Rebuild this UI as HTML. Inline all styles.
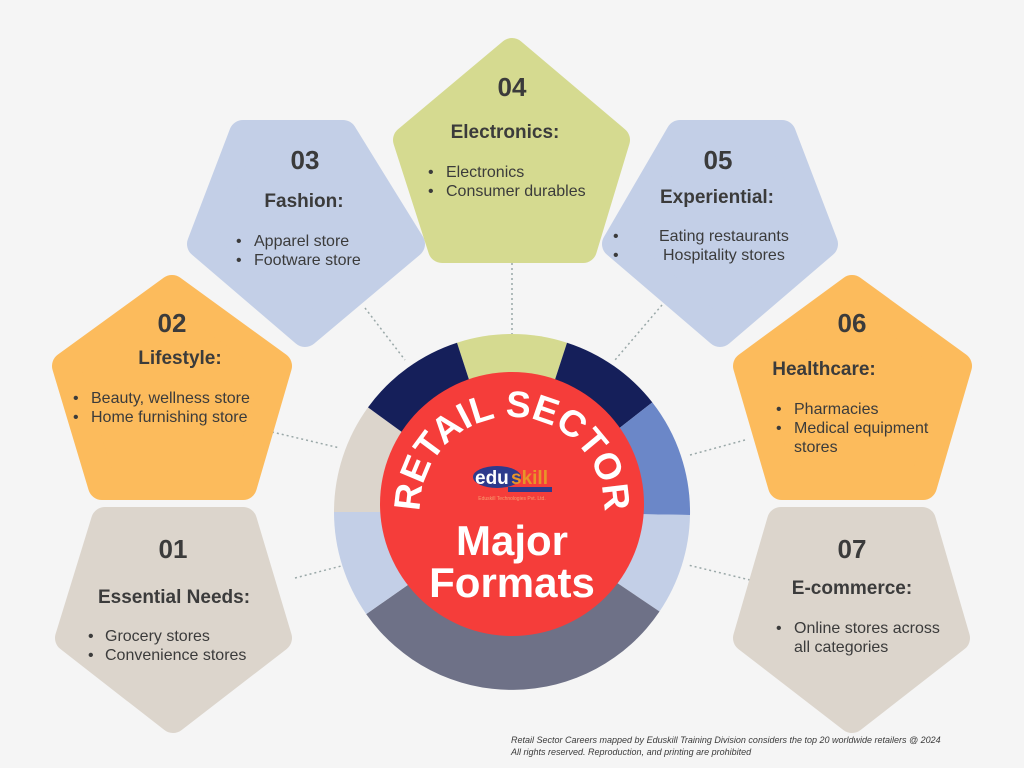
<!DOCTYPE html>
<html><head><meta charset="utf-8"><style>
html,body{margin:0;padding:0;background:#f5f5f5;}
svg{display:block}
text{font-family:"Liberation Sans",sans-serif;fill:#3b3b3b}
.n{font-size:26px;font-weight:bold;text-anchor:middle}
.h{font-size:19px;font-weight:bold;text-anchor:middle}
.b{font-size:16px}
</style></head><body>
<svg width="1024" height="768" viewBox="0 0 1024 768" xmlns="http://www.w3.org/2000/svg">
<rect width="1024" height="768" fill="#f5f5f5"/>
<g stroke="#9aa8a8" stroke-width="1.5" stroke-dasharray="2 3" fill="none">
<line x1="295" y1="578" x2="345" y2="565"/>
<line x1="272" y1="432" x2="340" y2="448"/>
<line x1="365" y1="308" x2="405" y2="360"/>
<line x1="512" y1="263" x2="512" y2="335"/>
<line x1="662" y1="305" x2="615" y2="360"/>
<line x1="745" y1="440" x2="690" y2="455"/>
<line x1="750" y1="580" x2="688" y2="565"/>
</g>
<g stroke-linejoin="round" stroke-width="28">
<polygon fill="#dcd5cc" stroke="#dcd5cc" points="105,521 243,521 278,638 173,719 69,638"/>
<polygon fill="#dcd5cc" stroke="#dcd5cc" points="781,521 922,521 956,638 852,719 747,638"/>
<polygon fill="#fcbb5c" stroke="#fcbb5c" points="172,289 278,366 243,486 102,486 66,366"/>
<polygon fill="#fcbb5c" stroke="#fcbb5c" points="852,289 958,366 923,486 782,486 747,366"/>
<polygon fill="#c3cfe7" stroke="#c3cfe7" points="243,134 343,134 411,244 305,333 201,244"/>
<polygon fill="#c3cfe7" stroke="#c3cfe7" points="680,134 782,134 824,244 720,333 616,244"/>
<polygon fill="#d5da90" stroke="#d5da90" points="512,52 616,140 583,249 442,249 407,140"/>
</g>
<g transform="translate(512,512)">
<path d="M0,0 L-55.0,-169.3 A178,178 0 0 1 55.0,-169.3 Z" fill="#d5da90"/>
<path d="M0,0 L55.0,-169.3 A178,178 0 0 1 140.3,-109.6 Z" fill="#151f5a"/>
<path d="M0,0 L140.3,-109.6 A178,178 0 0 1 178,3 Z" fill="#6b87c8"/>
<path d="M0,0 L178,3 A178,178 0 0 1 147.5,99.5 Z" fill="#c3cfe7"/>
<path d="M0,0 L147.5,99.5 A178,178 0 0 1 -145.8,102.1 Z" fill="#6e7187"/>
<path d="M0,0 L-145.8,102.1 A178,178 0 0 1 -178,0 Z" fill="#c3cfe7"/>
<path d="M0,0 L-178,0 A178,178 0 0 1 -144,-104.6 Z" fill="#dcd5cc"/>
<path d="M0,0 L-144,-104.6 A178,178 0 0 1 -55.0,-169.3 Z" fill="#151f5a"/>
</g>
<circle cx="512" cy="504" r="132" fill="#f53d3a"/>
<defs><path id="arc" d="M 422,528 A 92,92 0 1 1 602,528"/></defs>
<text font-size="37" font-weight="bold" style="fill:#fff" text-anchor="middle"><textPath href="#arc" startOffset="50%">RETAIL SECTOR</textPath></text>
<ellipse cx="497" cy="477" rx="24" ry="11" fill="#2d3a8c"/>
<text x="475" y="484" font-size="19" font-weight="bold" style="fill:#fff">edu</text>
<text x="511" y="484" font-size="19" font-weight="bold" style="fill:#e8942a">skill</text>
<rect x="508" y="487" width="44" height="5" fill="#2d3a8c"/>
<text x="512" y="500" font-size="5" text-anchor="middle" style="fill:#f7a070">Eduskill Technologies Pvt. Ltd.</text>
<text x="512" y="555" font-size="42" font-weight="bold" text-anchor="middle" style="fill:#fff">Major</text>
<text x="512" y="597" font-size="42" font-weight="bold" text-anchor="middle" style="fill:#fff">Formats</text>

<text class="n" x="173" y="558">01</text>
<text class="h" x="174" y="603">Essential Needs:</text>
<text class="b" x="105" y="641">Grocery stores</text><text class="b" x="105" y="660">Convenience stores</text>
<text class="b" x="88" y="641">•</text><text class="b" x="88" y="660">•</text>

<text class="n" x="172" y="332">02</text>
<text class="h" x="180" y="364">Lifestyle:</text>
<text class="b" x="91" y="403">Beauty, wellness store</text><text class="b" x="91" y="422">Home furnishing store</text>
<text class="b" x="73" y="403">•</text><text class="b" x="73" y="422">•</text>

<text class="n" x="305" y="169">03</text>
<text class="h" x="304" y="207">Fashion:</text>
<text class="b" x="254" y="246">Apparel store</text><text class="b" x="254" y="265">Footware store</text>
<text class="b" x="236" y="246">•</text><text class="b" x="236" y="265">•</text>

<text class="n" x="512" y="96">04</text>
<text class="h" x="505" y="138">Electronics:</text>
<text class="b" x="446" y="177">Electronics</text><text class="b" x="446" y="196">Consumer durables</text>
<text class="b" x="428" y="177">•</text><text class="b" x="428" y="196">•</text>

<text class="n" x="718" y="169">05</text>
<text class="h" x="717" y="203">Experiential:</text>
<text class="b" x="659" y="241">Eating restaurants</text><text class="b" x="663" y="260">Hospitality stores</text>
<text class="b" x="613" y="241">•</text><text class="b" x="613" y="260">•</text>

<text class="n" x="852" y="332">06</text>
<text class="h" x="824" y="375">Healthcare:</text>
<text class="b" x="794" y="414">Pharmacies</text><text class="b" x="794" y="433">Medical equipment</text><text class="b" x="794" y="452">stores</text>
<text class="b" x="776" y="414">•</text><text class="b" x="776" y="433">•</text>

<text class="n" x="852" y="558">07</text>
<text class="h" x="852" y="594">E-commerce:</text>
<text class="b" x="794" y="633">Online stores across</text><text class="b" x="794" y="652">all categories</text>
<text class="b" x="776" y="633">•</text>

<text x="511" y="743" font-size="9" font-style="italic">Retail Sector Careers mapped by Eduskill Training Division considers the top 20 worldwide retailers @ 2024</text>
<text x="511" y="755" font-size="9" font-style="italic">All rights reserved. Reproduction, and printing are prohibited</text>
</svg>
</body></html>
